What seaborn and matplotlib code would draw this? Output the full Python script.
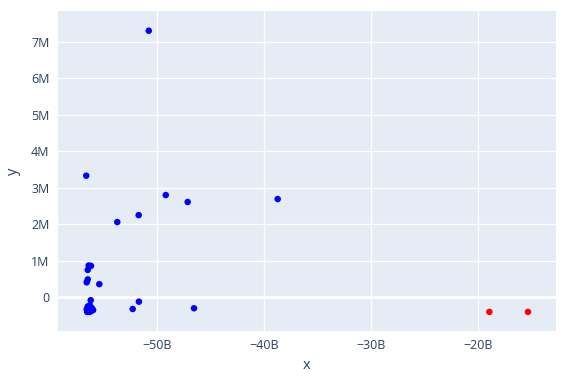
import matplotlib
matplotlib.use("Agg")
import matplotlib.pyplot as plt
from matplotlib.ticker import FuncFormatter, FixedLocator
import seaborn as sns
import pandas as pd

# values: x in billions, y in millions
blue_x = [-50.8, -56.64, -53.74, -51.74, -49.21, -47.16, -38.75,
          -56.41, -56.2, -56.5, -56.5, -56.6, -55.42, -56.22,
          -51.72, -52.30, -46.57,
          -56.5, -56.3, -56.1, -56.6, -56.4, -56.0, -56.55, -56.35, -56.2, -56.45]
blue_y = [7.30, 3.33, 2.06, 2.25, 2.80, 2.61, 2.69,
          0.87, 0.86, 0.75, 0.49, 0.41, 0.36, -0.08,
          -0.12, -0.32, -0.30,
          -0.25, -0.22, -0.30, -0.33, -0.36, -0.35, -0.40, -0.40, -0.38, -0.29]
red_x = [-18.97, -15.36]
red_y = [-0.40, -0.40]

df = pd.DataFrame({
    "x": [v * 1e9 for v in blue_x + red_x],
    "y": [v * 1e6 for v in blue_y + red_y],
    "group": ["a"] * len(blue_x) + ["b"] * len(red_x),
})

sns.set_theme(style="darkgrid")
plt.rcParams["font.family"] = ["Open Sans", "DejaVu Sans"]

fig = plt.figure(figsize=(5.67, 3.85), dpi=100)
ax = fig.add_axes([58 / 567, 1 - 331 / 385, (556 - 58) / 567, (331 - 11) / 385])
ax.set_facecolor("#E5ECF6")

ax.axhline(0, color="white", lw=2, zorder=1)
sns.scatterplot(data=df, x="x", y="y", hue="group",
                palette={"a": "blue", "b": "red"}, s=22, linewidth=0,
                legend=False, ax=ax, zorder=3)

ax.set_xlim(-59.28e9, -12.74e9)
ax.set_ylim(-0.923e6, 7.84e6)
ax.xaxis.set_major_locator(FixedLocator([-50e9, -40e9, -30e9, -20e9]))
ax.yaxis.set_major_locator(FixedLocator([0, 1e6, 2e6, 3e6, 4e6, 5e6, 6e6, 7e6]))
ax.xaxis.set_major_formatter(FuncFormatter(lambda v, p: f"\u2212{abs(v)/1e9:.0f}B"))
ax.yaxis.set_major_formatter(FuncFormatter(lambda v, p: "0" if v == 0 else f"{v/1e6:.0f}M"))
ax.grid(True, color="white", lw=1)
for s in ax.spines.values():
    s.set_visible(False)
ax.tick_params(axis="both", colors="#2a3f5f", labelsize=9, length=0, pad=6)
ax.set_xlabel("x", color="#2a3f5f", fontsize=10.5, labelpad=4)
ax.set_ylabel("y", color="#2a3f5f", fontsize=10.5, labelpad=7)

fig.savefig("out.png", dpi=100, facecolor="white")
